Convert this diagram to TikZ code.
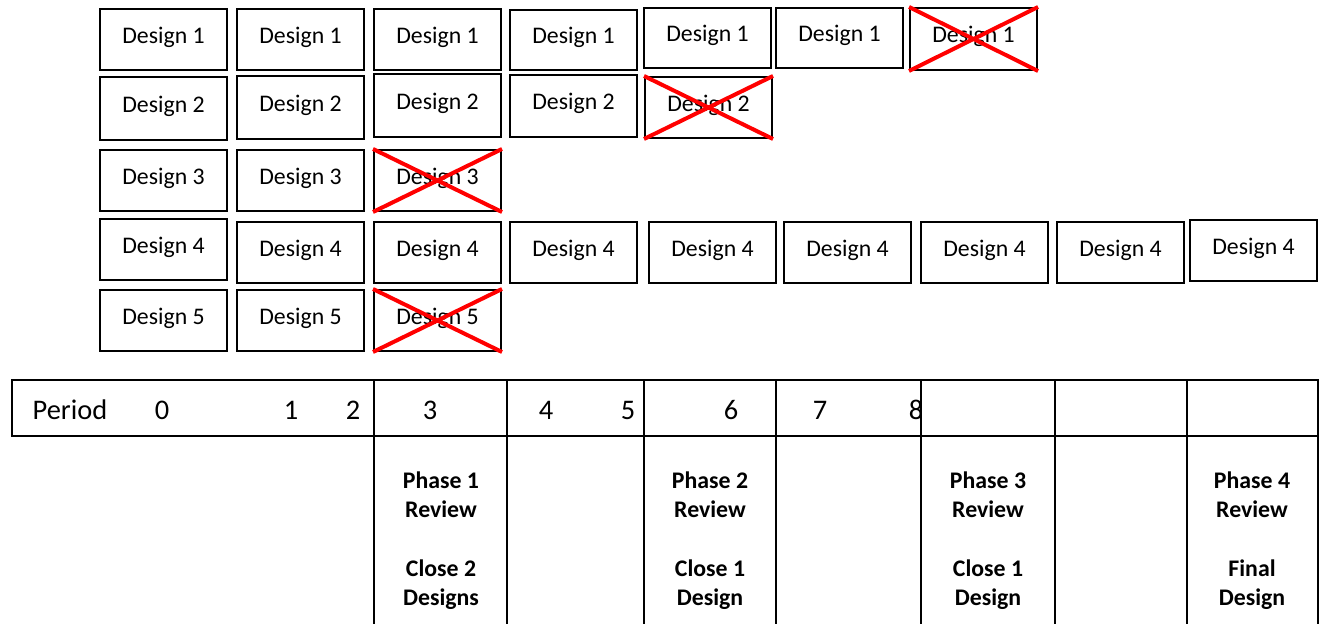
\documentclass[tikz,border=0pt]{standalone}
\usepackage{fontspec}
\setmainfont{Carlito}
\begin{document}
\begin{tikzpicture}[x=0.5pt,y=-0.5pt,
  dbox/.style={draw, line width=1pt, inner sep=0pt, fill=white, text depth=4.4pt,
    font=\fontsize{11.9}{14}\selectfont},
  cross/.style={draw=red, line width=2pt},
  grid/.style={line width=1pt},
  hdr/.style={inner sep=0pt, font=\fontsize{14.2}{17}\selectfont},
  phase/.style={inner sep=0pt, anchor=base, font=\fontsize{11.9}{14}\selectfont\bfseries}]
\useasboundingbox (0,0) rectangle (1321,624);
\newcommand{\dbx}[6]{\node[dbox, minimum width={(#4-#2)*0.5pt}, minimum height={(#5-#3)*0.5pt}] (#1) at ({(#2+#4)/2},{(#3+#5)/2}) {#6};}
\newcommand{\xbx}[1]{\draw[cross] (#1.north west) -- (#1.south east) (#1.south west) -- (#1.north east);}
% Row 1
\dbx{a1}{100}{9}{227}{70}{Design 1}
\dbx{a2}{237}{9}{364}{70}{Design 1}
\dbx{a3}{374}{9}{501}{70}{Design 1}
\dbx{a4}{510}{10}{637}{70}{Design 1}
\dbx{a5}{644}{8}{771}{68}{Design 1}
\dbx{a6}{776}{8}{903}{68}{Design 1}
\dbx{a7}{910}{8}{1037}{70}{Design 1}
\xbx{a7}
% Row 2
\dbx{b1}{100}{77}{227}{140}{Design 2}
\dbx{b2}{237}{76}{364}{139}{Design 2}
\dbx{b3}{374}{74}{501}{137}{Design 2}
\dbx{b4}{510}{75}{637}{137}{Design 2}
\dbx{b5}{645}{77}{772}{138}{Design 2}
\xbx{b5}
% Row 3
\dbx{c1}{100}{150}{227}{211}{Design 3}
\dbx{c2}{237}{150}{364}{211}{Design 3}
\dbx{c3}{374}{150}{501}{211}{Design 3}
\xbx{c3}
% Row 4
\dbx{d1}{100}{219}{227}{280}{Design 4}
\dbx{d2}{237}{222}{364}{283}{Design 4}
\dbx{d3}{374}{222}{501}{283}{Design 4}
\dbx{d4}{510}{222}{637}{283}{Design 4}
\dbx{d5}{649}{222}{776}{283}{Design 4}
\dbx{d6}{784}{222}{911}{283}{Design 4}
\dbx{d7}{921}{222}{1048}{283}{Design 4}
\dbx{d8}{1057}{222}{1184}{283}{Design 4}
\dbx{d9}{1190}{220}{1317}{281}{Design 4}
% Row 5
\dbx{e1}{100}{290}{227}{351}{Design 5}
\dbx{e2}{237}{290}{364}{351}{Design 5}
\dbx{e3}{374}{290}{501}{351}{Design 5}
\xbx{e3}
% Table
\draw[grid] (12,380) rectangle (1318,436);
\foreach \x in {374,507,644,776,921,1055,1187,1318}
  \draw[grid] (\x,380) -- (\x,624);
% Header texts
\node[hdr] (per) at (70,410) {Period};
\node[hdr] (p0) at (162,410) {0};
\node[hdr] (p1) at (291,410) {1};
\node[hdr] (p2) at (353,410) {2};
\node[hdr] (p3) at (430,410) {3};
\node[hdr] (p4) at (546,410) {4};
\node[hdr] (p5) at (628,410) {5};
\node[hdr] (p6) at (731,410) {6};
\node[hdr] (p7) at (820,410) {7};
\node[hdr] (p8) at (916,410) {8};
% Phase texts
\foreach \cx/\n/\a/\b [count=\i] in {441/1/Close 2/Designs, 710/2/Close 1/Design, 988/3/Close 1/Design, 1252/4/Final/Design}{
  \node[phase] (ph\i a) at (\cx,488.5) {Phase \n};
  \node[phase] (ph\i b) at (\cx,517.5) {Review};
  \node[phase] (ph\i c) at (\cx,576.5) {\a};
  \node[phase] (ph\i d) at (\cx,605.5) {\b};
}
\end{tikzpicture}
\end{document}
